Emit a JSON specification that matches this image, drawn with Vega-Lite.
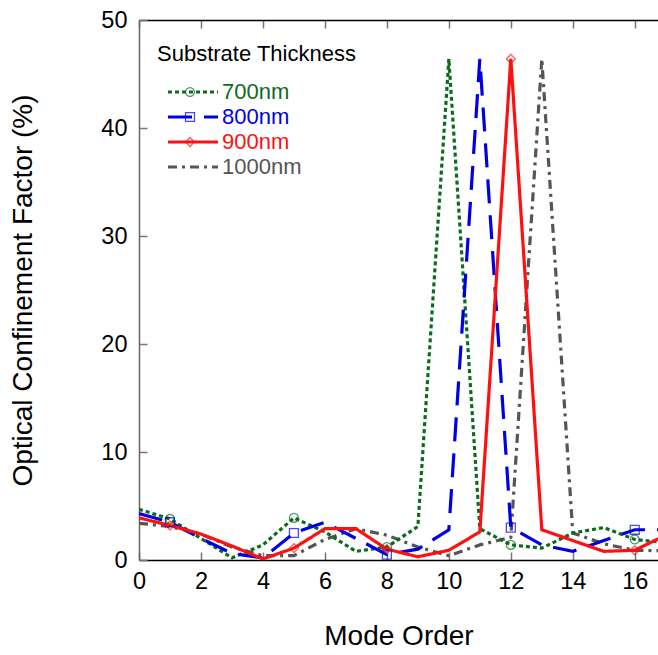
{
  "$schema": "https://vega.github.io/schema/vega-lite/v6.json",
  "width": 519,
  "height": 540,
  "autosize": {"type": "none"},
  "padding": {"left": 139, "top": 20, "right": 0, "bottom": 95},
  "background": "white",
  "config": {
    "font": "Liberation Sans",
    "view": {"stroke": null},
    "axis": {
      "grid": false,
      "labelFont": "Liberation Sans",
      "labelFontSize": 23.5,
      "labelColor": "#000",
      "titleFont": "Liberation Sans",
      "titleFontSize": 28,
      "titleFontWeight": "normal",
      "titleColor": "#000",
      "tickSize": -8,
      "tickColor": "#777",
      "tickWidth": 1.5,
      "domainWidth": 1.5,
      "labelFlush": false,
      "labelOverlap": false
    }
  },
  "data": {
    "values": [
      {"mode": 0, "thickness": "1000nm", "gamma": 3.4}, {"mode": 1, "thickness": "1000nm", "gamma": 3.1}, {"mode": 2, "thickness": "1000nm", "gamma": 2.4}, {"mode": 3, "thickness": "1000nm", "gamma": 1.2}, {"mode": 4, "thickness": "1000nm", "gamma": 0.4}, {"mode": 5, "thickness": "1000nm", "gamma": 0.4}, {"mode": 6, "thickness": "1000nm", "gamma": 1.9}, {"mode": 7, "thickness": "1000nm", "gamma": 2.9}, {"mode": 8, "thickness": "1000nm", "gamma": 2.3}, {"mode": 9, "thickness": "1000nm", "gamma": 1.2}, {"mode": 10, "thickness": "1000nm", "gamma": 0.4}, {"mode": 11, "thickness": "1000nm", "gamma": 1.4}, {"mode": 12, "thickness": "1000nm", "gamma": 2.1}, {"mode": 13, "thickness": "1000nm", "gamma": 46.4}, {"mode": 14, "thickness": "1000nm", "gamma": 2.5}, {"mode": 15, "thickness": "1000nm", "gamma": 1.5}, {"mode": 16, "thickness": "1000nm", "gamma": 0.9}, {"mode": 17, "thickness": "1000nm", "gamma": 0.85},
      {"mode": 0, "thickness": "700nm", "gamma": 4.7}, {"mode": 1, "thickness": "700nm", "gamma": 3.8}, {"mode": 2, "thickness": "700nm", "gamma": 2.0}, {"mode": 3, "thickness": "700nm", "gamma": 0.2}, {"mode": 4, "thickness": "700nm", "gamma": 1.4}, {"mode": 5, "thickness": "700nm", "gamma": 3.9}, {"mode": 6, "thickness": "700nm", "gamma": 2.6}, {"mode": 7, "thickness": "700nm", "gamma": 0.8}, {"mode": 8, "thickness": "700nm", "gamma": 1.2}, {"mode": 9, "thickness": "700nm", "gamma": 3.1}, {"mode": 10, "thickness": "700nm", "gamma": 46.4}, {"mode": 11, "thickness": "700nm", "gamma": 2.9}, {"mode": 12, "thickness": "700nm", "gamma": 1.4}, {"mode": 13, "thickness": "700nm", "gamma": 1.1}, {"mode": 14, "thickness": "700nm", "gamma": 2.5}, {"mode": 15, "thickness": "700nm", "gamma": 3.0}, {"mode": 16, "thickness": "700nm", "gamma": 1.9}, {"mode": 17, "thickness": "700nm", "gamma": 1.6},
      {"mode": 0, "thickness": "800nm", "gamma": 4.3}, {"mode": 1, "thickness": "800nm", "gamma": 3.5}, {"mode": 2, "thickness": "800nm", "gamma": 2.0}, {"mode": 3, "thickness": "800nm", "gamma": 0.6}, {"mode": 4, "thickness": "800nm", "gamma": 0.2}, {"mode": 5, "thickness": "800nm", "gamma": 2.5}, {"mode": 6, "thickness": "800nm", "gamma": 3.5}, {"mode": 7, "thickness": "800nm", "gamma": 2.0}, {"mode": 8, "thickness": "800nm", "gamma": 0.5}, {"mode": 9, "thickness": "800nm", "gamma": 1.0}, {"mode": 10, "thickness": "800nm", "gamma": 2.8}, {"mode": 11, "thickness": "800nm", "gamma": 46.4}, {"mode": 12, "thickness": "800nm", "gamma": 3.0}, {"mode": 13, "thickness": "800nm", "gamma": 1.4}, {"mode": 14, "thickness": "800nm", "gamma": 0.8}, {"mode": 15, "thickness": "800nm", "gamma": 1.8}, {"mode": 16, "thickness": "800nm", "gamma": 2.8}, {"mode": 17, "thickness": "800nm", "gamma": 2.8},
      {"mode": 0, "thickness": "900nm", "gamma": 3.9}, {"mode": 1, "thickness": "900nm", "gamma": 3.2}, {"mode": 2, "thickness": "900nm", "gamma": 2.4}, {"mode": 3, "thickness": "900nm", "gamma": 1.3}, {"mode": 4, "thickness": "900nm", "gamma": 0.1}, {"mode": 5, "thickness": "900nm", "gamma": 1.1}, {"mode": 6, "thickness": "900nm", "gamma": 2.9}, {"mode": 7, "thickness": "900nm", "gamma": 2.9}, {"mode": 8, "thickness": "900nm", "gamma": 1.0}, {"mode": 9, "thickness": "900nm", "gamma": 0.3}, {"mode": 10, "thickness": "900nm", "gamma": 0.9}, {"mode": 11, "thickness": "900nm", "gamma": 2.6}, {"mode": 12, "thickness": "900nm", "gamma": 46.4}, {"mode": 13, "thickness": "900nm", "gamma": 2.8}, {"mode": 14, "thickness": "900nm", "gamma": 1.8}, {"mode": 15, "thickness": "900nm", "gamma": 0.8}, {"mode": 16, "thickness": "900nm", "gamma": 0.9}, {"mode": 17, "thickness": "900nm", "gamma": 2.3}
    ]
  },
  "encoding": {
    "y": {
      "field": "gamma",
      "type": "quantitative",
      "scale": {"domain": [0, 50], "nice": false, "zero": false},
      "axis": {
        "values": [0, 10, 20, 30, 40, 50],
        "domainColor": "#666",
        "labelPadding": 20,
        "title": "Optical Confinement Factor (%)",
        "titlePadding": 63
      }
    }
  },
  "layer": [
    {
      "mark": {"type": "line", "strokeWidth": 3.2, "clip": true},
      "encoding": {
        "x": {
          "field": "mode",
          "type": "quantitative",
          "scale": {"domain": [0, 16.75], "nice": false, "zero": false},
          "axis": {
            "values": [0, 2, 4, 6, 8, 10, 12, 14, 16],
            "domainColor": "#000",
            "labelPadding": 17,
            "title": "Mode Order",
            "titlePadding": 30
          }
        },
        "color": {
          "field": "thickness",
          "type": "nominal",
          "scale": {"domain": ["700nm", "800nm", "900nm", "1000nm"], "range": ["#0b6b1e", "#0000e6", "#ff1010", "#555555"]},
          "legend": {
            "orient": "none",
            "legendX": 18,
            "legendY": 24,
            "title": "Substrate Thickness",
            "titleFontSize": 22,
            "titleFontWeight": "normal",
            "titleColor": "#000",
            "titleLimit": 400,
            "titlePadding": 15,
            "labelFontSize": 22,
            "labelOffset": 43,
            "symbolType": "M0,0H10",
            "symbolSize": 100,
            "symbolStrokeWidth": 3,
            "rowPadding": 3,
            "padding": 0,
            "encode": {"labels": {"update": {"fill": {"scale": "color", "field": "value"}}}}
          }
        },
        "strokeDash": {
          "field": "thickness",
          "type": "nominal",
          "scale": {"domain": ["700nm", "800nm", "900nm", "1000nm"], "range": [[4, 3], [24, 12], [1, 0], [9, 5, 3, 5]]}
        }
      }
    },
    {
      "transform": [{"filter": "indexof([1, 5, 8, 12, 16], datum.mode) >= 0 && datum.thickness != '1000nm'"}],
      "mark": {"type": "point", "filled": false, "size": 80, "strokeWidth": 1.3, "clip": true},
      "encoding": {
        "x": {"field": "mode", "type": "quantitative", "axis": null},
        "stroke": {
          "field": "thickness",
          "type": "nominal",
          "scale": {"domain": ["700nm", "800nm", "900nm"], "range": ["#0b6b1e", "#0000e6", "#ff1010"]}
        },
        "shape": {
          "field": "thickness",
          "type": "nominal",
          "scale": {"domain": ["700nm", "800nm", "900nm"], "range": ["circle", "square", "diamond"]},
          "legend": {
            "orient": "none",
            "legendX": 40,
            "legendY": 61,
            "title": null,
            "labelFontSize": 22,
            "labelExpr": "''",
            "labelOffset": 0,
            "symbolSize": 80,
            "symbolStrokeWidth": 1.3,
            "symbolFillColor": "transparent",
            "rowPadding": 3,
            "padding": 0
          }
        }
      }
    },
    {
      "transform": [{"filter": "datum.mode == 0 && datum.thickness == '700nm'"}],
      "mark": {"type": "point", "opacity": 0},
      "encoding": {
        "x": {
          "field": "mode",
          "type": "quantitative",
          "axis": {
            "orient": "top",
            "values": [0, 2, 4, 6, 8, 10, 12, 14, 16],
            "labels": false,
            "title": null,
            "domainColor": "#000"
          }
        }
      }
    }
  ],
  "resolve": {"axis": {"x": "independent"}}
}
